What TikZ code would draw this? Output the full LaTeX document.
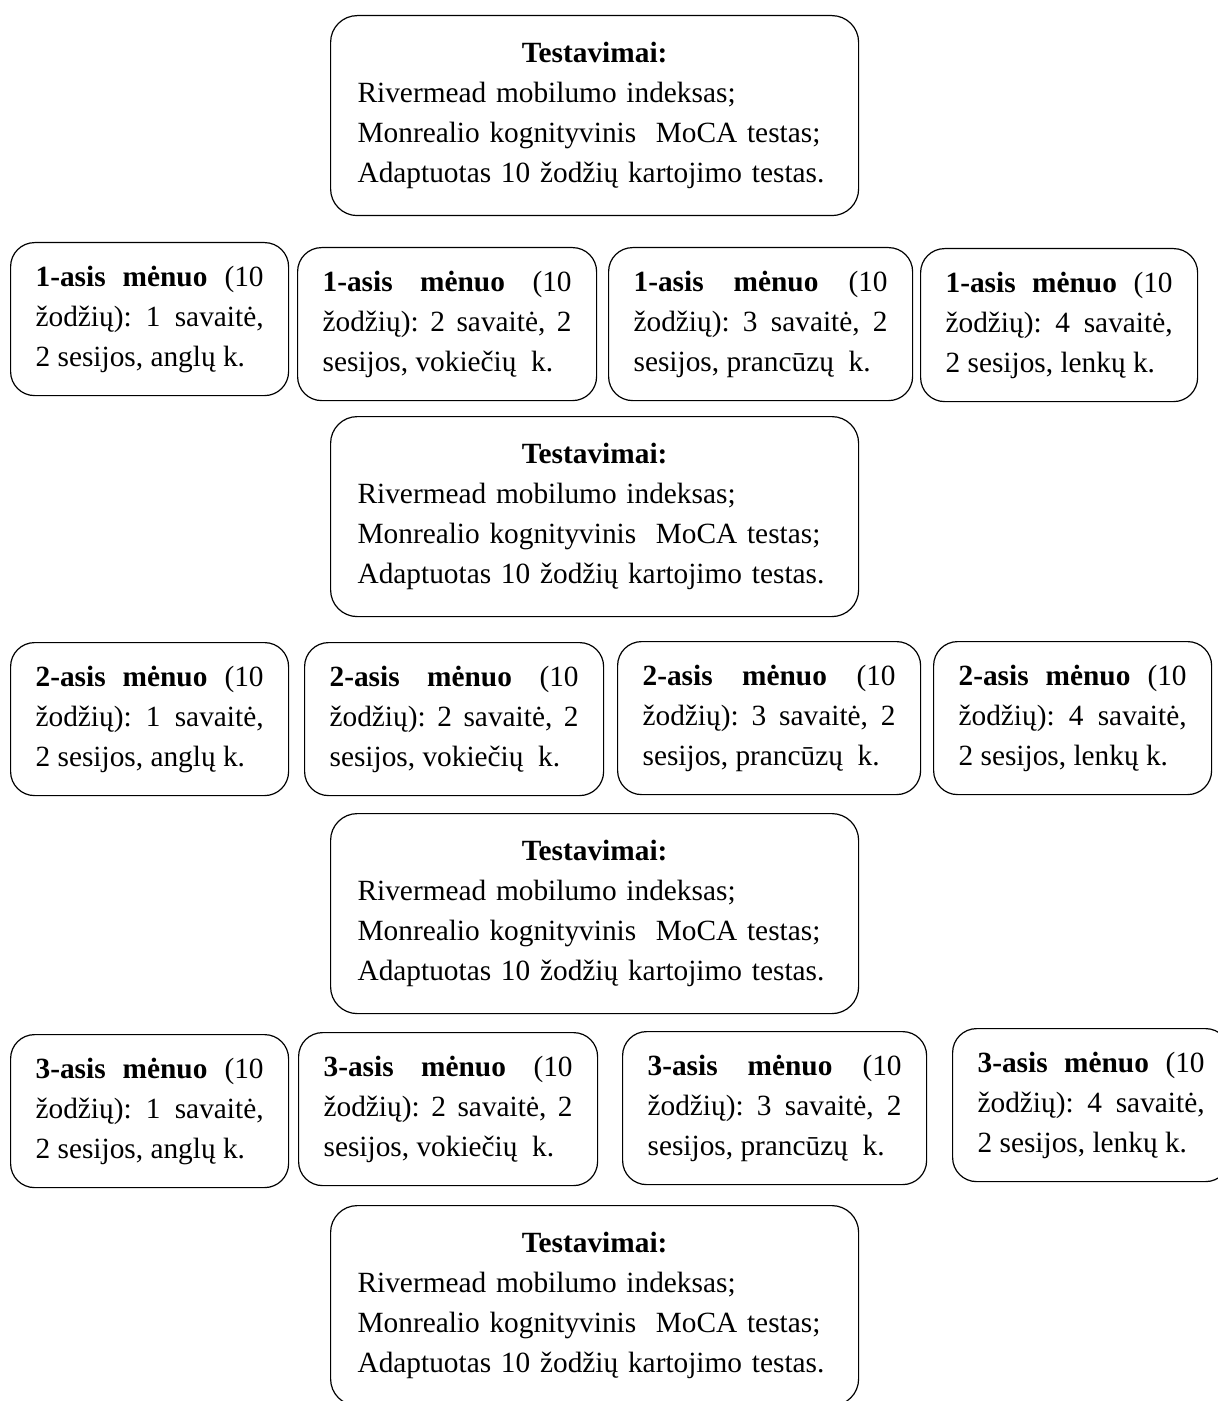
\documentclass[tikz,border=0pt]{standalone}
\usepackage{fontspec}
\setmainfont{Liberation Serif}
\frenchspacing

\newcommand{\testtext}{\makebox[355.5pt]{\textbf{Testavimai:}}\\
	Rivermead mobilumo indeksas;\\
	Monrealio kognityvinis\ \ MoCA testas;\\
	Adaptuotas 10 žodžių kartojimo testas.}

\begin{document}
\begin{tikzpicture}[x=0.75pt,y=-0.75pt,
	testbox/.style={draw, line width=0.9pt, rounded corners=20pt, anchor=north west,
		text width=355.5pt, minimum height=150pt, inner xsep=20.25pt, align=left,
		font=\fontsize{22}{30}\selectfont},
	monthbox/.style={draw, line width=0.9pt, rounded corners=18pt, anchor=north west,
		minimum height=114.75pt, inner xsep=18.75pt, align=justify,
		font=\fontsize{22}{30}\selectfont}]
	\useasboundingbox (0,0) rectangle (1217,1401);

	%testing boxes
	\node[testbox] (test0) at (330,15)   {\testtext};
	\node[testbox] (test1) at (330,416)  {\testtext};
	\node[testbox] (test2) at (330,813)  {\testtext};
	\node[testbox] (test3) at (330,1205) {\testtext};

	%first month
	\node[monthbox, text width=171pt]    (m1w1) at (10,242)  {\textbf{1-asis mėnuo} (10\linebreak žodžių): 1 savaitė,\linebreak 2 sesijos, anglų k.};
	\node[monthbox, text width=186.75pt] (m1w2) at (297,247) {\textbf{1-asis mėnuo} (10\linebreak žodžių): 2 savaitė, 2\linebreak sesijos, vokiečių\ \ k.};
	\node[monthbox, text width=190.5pt]  (m1w3) at (608,247) {\textbf{1-asis mėnuo} (10\linebreak žodžių): 3 savaitė, 2\linebreak sesijos, prancūzų\ \ k.};
	\node[monthbox, text width=170.25pt] (m1w4) at (920,248) {\textbf{1-asis mėnuo} (10\linebreak žodžių): 4 savaitė,\linebreak 2 sesijos, lenkų k.};

	%second month
	\node[monthbox, text width=171pt]    (m2w1) at (10,642)  {\textbf{2-asis mėnuo} (10\linebreak žodžių): 1 savaitė,\linebreak 2 sesijos, anglų k.};
	\node[monthbox, text width=186.75pt] (m2w2) at (304,642) {\textbf{2-asis mėnuo} (10\linebreak žodžių): 2 savaitė, 2\linebreak sesijos, vokiečių\ \ k.};
	\node[monthbox, text width=189.75pt] (m2w3) at (617,641) {\textbf{2-asis mėnuo} (10\linebreak žodžių): 3 savaitė, 2\linebreak sesijos, prancūzų\ \ k.};
	\node[monthbox, text width=171pt]    (m2w4) at (933,641) {\textbf{2-asis mėnuo} (10\linebreak žodžių): 4 savaitė,\linebreak 2 sesijos, lenkų k.};

	%third month
	\node[monthbox, text width=171pt]    (m3w1) at (10,1034)  {\textbf{3-asis mėnuo} (10\linebreak žodžių): 1 savaitė,\linebreak 2 sesijos, anglų k.};
	\node[monthbox, text width=186.75pt] (m3w2) at (298,1032) {\textbf{3-asis mėnuo} (10\linebreak žodžių): 2 savaitė, 2\linebreak sesijos, vokiečių\ \ k.};
	\node[monthbox, text width=190.5pt]  (m3w3) at (622,1031) {\textbf{3-asis mėnuo} (10\linebreak žodžių): 3 savaitė, 2\linebreak sesijos, prancūzų\ \ k.};
	\node[monthbox, text width=170.25pt] (m3w4) at (952,1028) {\textbf{3-asis mėnuo} (10\linebreak žodžių): 4 savaitė,\linebreak 2 sesijos, lenkų k.};
\end{tikzpicture}
\end{document}
